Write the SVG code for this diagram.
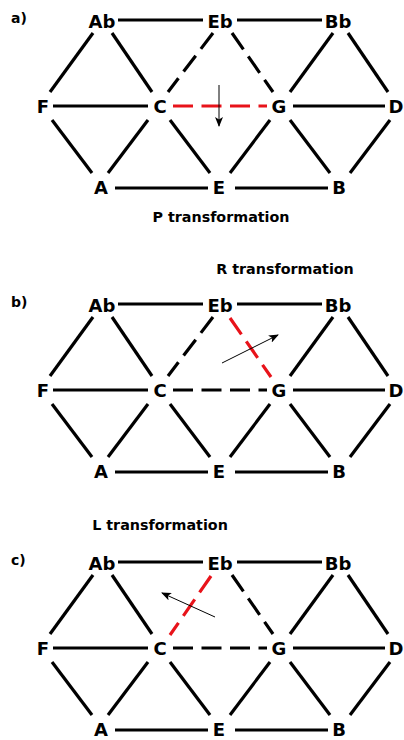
<svg xmlns="http://www.w3.org/2000/svg" width="404" height="740" viewBox="0 0 404 740">
  <defs>
    <style>
      .node { font-family: "DejaVu Sans", "Liberation Sans", sans-serif; font-weight: bold; font-size: 18px; text-anchor: middle; fill: #000; }
      .tag { font-family: "DejaVu Sans", "Liberation Sans", sans-serif; font-weight: bold; font-size: 14px; fill: #000; }
      .title { font-family: "DejaVu Sans", "Liberation Sans", sans-serif; font-weight: bold; font-size: 14.3px; text-anchor: middle; fill: #000; }
      .edge { stroke: #000; stroke-width: 3.2; fill: none; stroke-linecap: butt; }
      .dash { stroke-dasharray: 20 8.5; }
      .red { stroke: #e8131a; }
      .move { stroke: #000; stroke-width: 1; fill: none; }
    </style>
    <marker id="head" viewBox="0 0 10 8" refX="9" refY="4" markerWidth="10" markerHeight="8" markerUnits="userSpaceOnUse" orient="auto">
      <path d="M0,0 L10,4 L0,8 L2.5,4 Z" fill="#000"/>
    </marker>
  </defs>
  <rect width="404" height="740" fill="#fff"/>

  <!-- Panel a: P transformation -->
  <g id="panel-a">
    <text class="tag" x="11" y="23">a)</text>
    <g id="a-connectors">
      <line class="edge" x1="118" y1="20" x2="203" y2="20"/>
      <line class="edge" x1="237" y1="20" x2="322" y2="20"/>
      <line class="edge" x1="53" y1="106" x2="148" y2="106"/>
      <line class="edge dash red" x1="173" y1="106" x2="267" y2="106"/>
      <line class="edge" x1="293" y1="106" x2="385" y2="106"/>
      <line class="edge" x1="115" y1="188" x2="208" y2="188"/>
      <line class="edge" x1="235" y1="188" x2="328" y2="188"/>
      <line class="edge" x1="93" y1="33" x2="50" y2="92"/>
      <line class="edge" x1="112" y1="33" x2="152" y2="92"/>
      <line class="edge dash" x1="213" y1="33" x2="168" y2="92"/>
      <line class="edge dash" x1="232" y1="33" x2="273" y2="92"/>
      <line class="edge" x1="333" y1="33" x2="290" y2="92"/>
      <line class="edge" x1="348" y1="33" x2="388" y2="92"/>
      <line class="edge" x1="52" y1="120" x2="92" y2="173"/>
      <line class="edge" x1="148" y1="120" x2="108" y2="173"/>
      <line class="edge" x1="170" y1="120" x2="210" y2="173"/>
      <line class="edge" x1="270" y1="120" x2="230" y2="173"/>
      <line class="edge" x1="290" y1="120" x2="330" y2="173"/>
      <line class="edge" x1="390" y1="120" x2="350" y2="173"/>
      <line class="move" x1="219" y1="85" x2="219" y2="126" marker-end="url(#head)"/>
    </g>
    <g id="a-Ab"><text class="node" x="102" y="28">Ab</text></g>
    <g id="a-Eb"><text class="node" x="220" y="28">Eb</text></g>
    <g id="a-Bb"><text class="node" x="338" y="28">Bb</text></g>
    <g id="a-F"><text class="node" x="43" y="113">F</text></g>
    <g id="a-C"><text class="node" x="160" y="113">C</text></g>
    <g id="a-G"><text class="node" x="279" y="113">G</text></g>
    <g id="a-D"><text class="node" x="396" y="113">D</text></g>
    <g id="a-A"><text class="node" x="101" y="194">A</text></g>
    <g id="a-E"><text class="node" x="219" y="194">E</text></g>
    <g id="a-B"><text class="node" x="339" y="194">B</text></g>
    <text class="title" x="221" y="222">P transformation</text>
  </g>

  <!-- Panel b: R transformation -->
  <text class="title" x="285" y="274">R transformation</text>
  <g id="panel-b" transform="translate(0,284)">
    <text class="tag" x="11" y="23">b)</text>
    <g id="b-connectors">
      <line class="edge" x1="118" y1="20" x2="203" y2="20"/>
      <line class="edge" x1="237" y1="20" x2="322" y2="20"/>
      <line class="edge" x1="53" y1="106" x2="148" y2="106"/>
      <line class="edge dash" x1="173" y1="106" x2="267" y2="106"/>
      <line class="edge" x1="293" y1="106" x2="385" y2="106"/>
      <line class="edge" x1="115" y1="188" x2="208" y2="188"/>
      <line class="edge" x1="235" y1="188" x2="328" y2="188"/>
      <line class="edge" x1="93" y1="33" x2="50" y2="92"/>
      <line class="edge" x1="112" y1="33" x2="152" y2="92"/>
      <line class="edge dash" x1="213" y1="33" x2="168" y2="92"/>
      <line class="edge dash red" x1="230" y1="34" x2="271" y2="93"/>
      <line class="edge" x1="333" y1="33" x2="290" y2="92"/>
      <line class="edge" x1="348" y1="33" x2="388" y2="92"/>
      <line class="edge" x1="52" y1="120" x2="92" y2="173"/>
      <line class="edge" x1="148" y1="120" x2="108" y2="173"/>
      <line class="edge" x1="170" y1="120" x2="210" y2="173"/>
      <line class="edge" x1="270" y1="120" x2="230" y2="173"/>
      <line class="edge" x1="290" y1="120" x2="330" y2="173"/>
      <line class="edge" x1="390" y1="120" x2="350" y2="173"/>
      <line class="move" x1="222" y1="79" x2="278" y2="51" marker-end="url(#head)"/>
    </g>
    <g id="b-Ab"><text class="node" x="102" y="28">Ab</text></g>
    <g id="b-Eb"><text class="node" x="220" y="28">Eb</text></g>
    <g id="b-Bb"><text class="node" x="338" y="28">Bb</text></g>
    <g id="b-F"><text class="node" x="43" y="113">F</text></g>
    <g id="b-C"><text class="node" x="160" y="113">C</text></g>
    <g id="b-G"><text class="node" x="279" y="113">G</text></g>
    <g id="b-D"><text class="node" x="396" y="113">D</text></g>
    <g id="b-A"><text class="node" x="101" y="194">A</text></g>
    <g id="b-E"><text class="node" x="219" y="194">E</text></g>
    <g id="b-B"><text class="node" x="339" y="194">B</text></g>
  </g>

  <!-- Panel c: L transformation -->
  <text class="title" x="160" y="530">L transformation</text>
  <g id="panel-c" transform="translate(0,542)">
    <text class="tag" x="11" y="23">c)</text>
    <g id="c-connectors">
      <line class="edge" x1="118" y1="20" x2="203" y2="20"/>
      <line class="edge" x1="237" y1="20" x2="322" y2="20"/>
      <line class="edge" x1="53" y1="106" x2="148" y2="106"/>
      <line class="edge dash" x1="173" y1="106" x2="267" y2="106"/>
      <line class="edge" x1="293" y1="106" x2="385" y2="106"/>
      <line class="edge" x1="115" y1="188" x2="208" y2="188"/>
      <line class="edge" x1="235" y1="188" x2="328" y2="188"/>
      <line class="edge" x1="93" y1="33" x2="50" y2="92"/>
      <line class="edge" x1="112" y1="33" x2="152" y2="92"/>
      <line class="edge dash red" x1="211" y1="34" x2="170" y2="93"/>
      <line class="edge dash" x1="232" y1="33" x2="273" y2="92"/>
      <line class="edge" x1="333" y1="33" x2="290" y2="92"/>
      <line class="edge" x1="348" y1="33" x2="388" y2="92"/>
      <line class="edge" x1="52" y1="120" x2="92" y2="173"/>
      <line class="edge" x1="148" y1="120" x2="108" y2="173"/>
      <line class="edge" x1="170" y1="120" x2="210" y2="173"/>
      <line class="edge" x1="270" y1="120" x2="230" y2="173"/>
      <line class="edge" x1="290" y1="120" x2="330" y2="173"/>
      <line class="edge" x1="390" y1="120" x2="350" y2="173"/>
      <line class="move" x1="215" y1="75" x2="162" y2="51" marker-end="url(#head)"/>
    </g>
    <g id="c-Ab"><text class="node" x="102" y="28">Ab</text></g>
    <g id="c-Eb"><text class="node" x="220" y="28">Eb</text></g>
    <g id="c-Bb"><text class="node" x="338" y="28">Bb</text></g>
    <g id="c-F"><text class="node" x="43" y="113">F</text></g>
    <g id="c-C"><text class="node" x="160" y="113">C</text></g>
    <g id="c-G"><text class="node" x="279" y="113">G</text></g>
    <g id="c-D"><text class="node" x="396" y="113">D</text></g>
    <g id="c-A"><text class="node" x="101" y="194">A</text></g>
    <g id="c-E"><text class="node" x="219" y="194">E</text></g>
    <g id="c-B"><text class="node" x="339" y="194">B</text></g>
  </g>
</svg>
